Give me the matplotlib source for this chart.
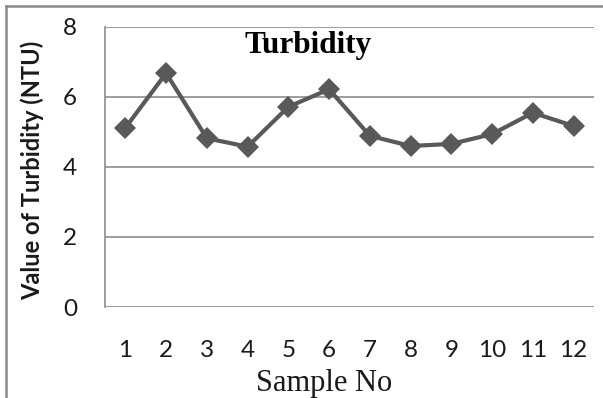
import matplotlib
matplotlib.use("Agg")
import matplotlib.pyplot as plt
from matplotlib.lines import Line2D

samples = [1, 2, 3, 4, 5, 6, 7, 8, 9, 10, 11, 12]
turbidity = [5.12, 6.68, 4.82, 4.58, 5.72, 6.22, 4.89, 4.60, 4.66, 4.94, 5.55, 5.17]
y_ticks = [0, 2, 4, 6, 8]

fig = plt.figure(figsize=(6.03, 3.98), dpi=100)
ax = fig.add_axes([105 / 603, 1 - 307 / 398, (594 - 105) / 603, (307 - 27) / 398])

grid_col = "#8c8c8c"
for y in y_ticks:
    ax.axhline(y, color=grid_col, lw=1.2, zorder=1)

ax.plot(samples, turbidity, color="#595959", lw=3.0, marker="D",
        markersize=11.5, markeredgewidth=0, zorder=3)

ax.set_xlim(0.5, 12.5)
ax.set_ylim(0, 8)
ax.set_yticks(y_ticks)
ax.set_xticks(samples)
for s in ["top", "right", "bottom"]:
    ax.spines[s].set_visible(False)
ax.spines["left"].set_color(grid_col)
ax.spines["left"].set_linewidth(1.2)
ax.tick_params(axis="both", length=0, labelsize=17.5, colors="#1a1a1a")
ax.tick_params(axis="y", pad=20)
ax.tick_params(axis="x", pad=24)
for lab in ax.get_xticklabels() + ax.get_yticklabels():
    lab.set_fontfamily("Lato")

fig.text(308 / 603, 1 - 45 / 398, "Turbidity", family="Liberation Serif",
         weight="bold", fontsize=22.5, ha="center", va="center", color="black")
fig.text(324 / 603, 1 - 383 / 398, "Sample No", family="Liberation Serif",
         fontsize=22, ha="center", va="center", color="#1a1a1a")
fig.text(32 / 603, 1 - 170 / 398, "Value of Turbidity (NTU)", family="Lato",
         weight="bold", fontsize=17, rotation=90, ha="center", va="center",
         color="#1a1a1a")

# outer frame along the left and top edges
fig.add_artist(Line2D([6 / 603, 6 / 603], [0, 1 - 6 / 398], transform=fig.transFigure,
                      color="#8a8a8a", lw=1.8))
fig.add_artist(Line2D([6 / 603, 1], [1 - 6 / 398, 1 - 6 / 398], transform=fig.transFigure,
                      color="#8a8a8a", lw=1.8))

fig.savefig("out.png", dpi=100)
